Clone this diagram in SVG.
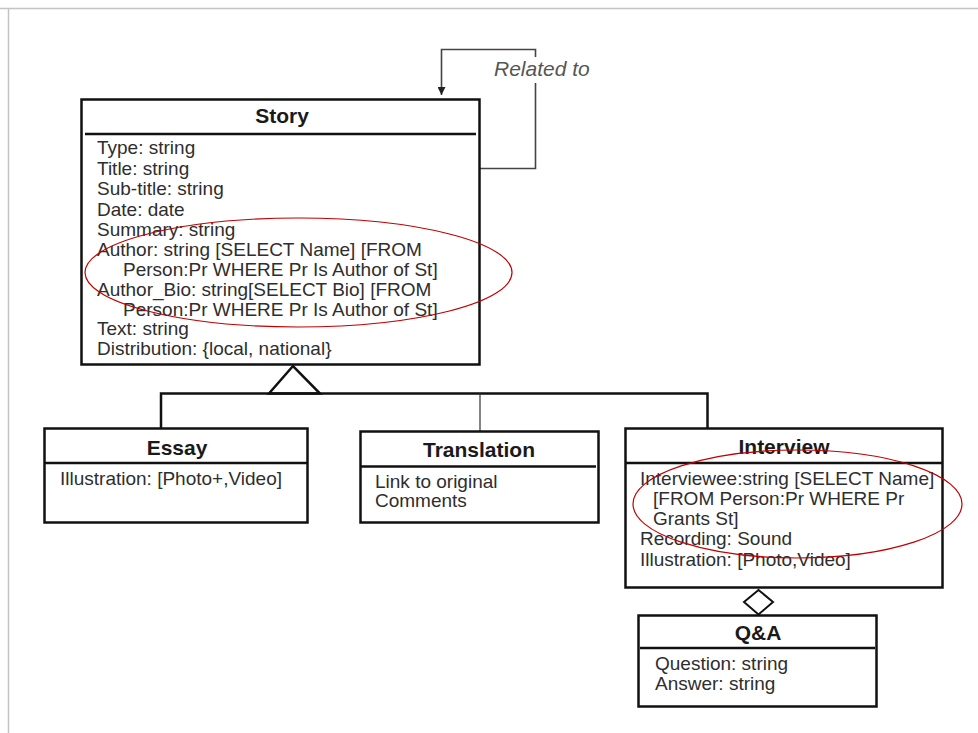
<svg xmlns="http://www.w3.org/2000/svg" width="978" height="733" viewBox="0 0 978 733">
  <style>
    .box { fill: #ffffff; stroke: #111111; stroke-width: 2.5; }
    .sep { stroke: #111111; stroke-width: 2.5; }
    .title { font-family: "Liberation Sans", Arial, sans-serif; font-weight: bold; font-size: 21px; fill: #1a1a1a; text-anchor: middle; }
    .attr { font-family: "Liberation Sans", Arial, sans-serif; font-size: 19px; fill: #2e2e2e; }
    .conn { fill: none; stroke: #111111; stroke-width: 2.5; }
    .thin { fill: none; stroke: #333333; stroke-width: 1.2; }
    .loop { fill: none; stroke: #444444; stroke-width: 1.6; }
    .label { font-family: "Liberation Sans", Arial, sans-serif; font-style: italic; font-size: 21px; fill: #555555; }
    .mark { fill: none; stroke: #c00000; stroke-width: 1.2; }
    .frame { fill: none; stroke: #c4c4c4; stroke-width: 1.5; }
  </style>
  <defs>
    <marker id="arrow" viewBox="0 0 10 10" refX="10" refY="5" markerWidth="8" markerHeight="8" markerUnits="userSpaceOnUse" orient="auto">
      <path d="M0,0 L10,5 L0,10 Z" fill="#222222"/>
    </marker>
  </defs>

  <rect width="978" height="733" fill="#ffffff"/>
  <!-- page frame -->
  <path class="frame" d="M0,8.5 H978 M8.5,8.5 V733"/>

  <!-- connectors -->
  <g id="connectors">
    <!-- self association "Related to" -->
    <path class="loop" d="M480,168.5 H535.5 V83"/>
    <path class="loop" d="M535.5,57 V49.5 H441.5 V95" marker-end="url(#arrow)"/>
    <text class="label" x="494" y="76">Related to</text>
    <!-- generalization -->
    <polygon points="293,366 269,393.5 320,393.5" fill="#ffffff" stroke="#111111" stroke-width="2.5" stroke-linejoin="miter"/>
    <path class="conn" d="M161,428 V393.5 H707.5 V428"/>
    <path class="thin" d="M480,393.5 V431"/>
    <!-- aggregation -->
    <polygon points="758.5,590 773,602 758.5,614.5 744,602" fill="#ffffff" stroke="#111111" stroke-width="2"/>
  </g>

  <g id="story">
    <rect class="box" x="81.5" y="99.5" width="398" height="265"/>
    <line class="sep" x1="85" y1="134" x2="476" y2="134"/>
    <text class="title" x="282" y="123">Story</text>
    <text class="attr" x="97" y="154">Type: string</text>
    <text class="attr" x="97" y="174.5">Title: string</text>
    <text class="attr" x="97" y="195">Sub-title: string</text>
    <text class="attr" x="97" y="215.5">Date: date</text>
    <text class="attr" x="97" y="236">Summary: string</text>
    <text class="attr" x="97" y="256">Author: string [SELECT Name] [FROM</text>
    <text class="attr" x="123" y="276">Person:Pr WHERE Pr Is Author of St]</text>
    <text class="attr" x="97" y="296">Author_Bio: string[SELECT Bio] [FROM</text>
    <text class="attr" x="123" y="315.5">Person:Pr WHERE Pr Is Author of St]</text>
    <text class="attr" x="97" y="335">Text: string</text>
    <text class="attr" x="97" y="355">Distribution: {local, national}</text>
  </g>

  <g id="essay">
    <rect class="box" x="44.5" y="428.5" width="263" height="94"/>
    <line class="sep" x1="44.5" y1="463" x2="307.5" y2="463"/>
    <text class="title" x="177" y="454.5">Essay</text>
    <text class="attr" x="60" y="485">Illustration: [Photo+,Video]</text>
  </g>

  <g id="translation">
    <rect class="box" x="360.5" y="431.5" width="238" height="91"/>
    <line class="sep" x1="360.5" y1="466.5" x2="596" y2="466.5"/>
    <text class="title" x="479" y="456.5">Translation</text>
    <text class="attr" x="375" y="487.5">Link to original</text>
    <text class="attr" x="375" y="507">Comments</text>
  </g>

  <g id="interview">
    <rect class="box" x="625.5" y="428.5" width="317" height="159"/>
    <line class="sep" x1="625.5" y1="463" x2="942.5" y2="463"/>
    <text class="title" x="784" y="453.5">Interview</text>
    <text class="attr" x="640" y="484.5">Interviewee:string [SELECT Name]</text>
    <text class="attr" x="653" y="504.5">[FROM Person:Pr WHERE Pr</text>
    <text class="attr" x="653" y="524.5">Grants St]</text>
    <text class="attr" x="640" y="544.5">Recording: Sound</text>
    <text class="attr" x="640" y="565.5">Illustration: [Photo,Video]</text>
  </g>

  <g id="qa">
    <rect class="box" x="638.5" y="615.5" width="238" height="91"/>
    <line class="sep" x1="640" y1="648" x2="875" y2="648"/>
    <text class="title" x="758" y="639.5">Q&amp;A</text>
    <text class="attr" x="655" y="669.5">Question: string</text>
    <text class="attr" x="655" y="689.5">Answer: string</text>
  </g>

  <!-- highlight rings -->
  <g id="highlights">
    <ellipse class="mark" cx="298.5" cy="272.5" rx="213.5" ry="54.5"/>
    <ellipse class="mark" cx="797.5" cy="504" rx="164.5" ry="54"/>
  </g>
</svg>
